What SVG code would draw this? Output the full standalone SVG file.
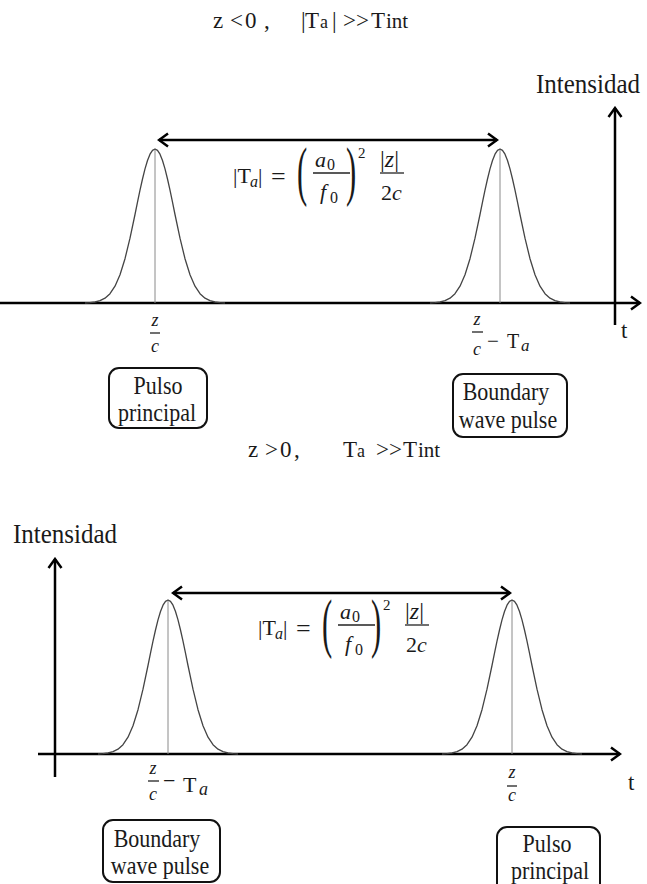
<svg xmlns="http://www.w3.org/2000/svg" xmlns:xlink="http://www.w3.org/1999/xlink" width="647" height="884" viewBox="0 0 647 884">
<style>
text{font-family:"Liberation Serif","Times New Roman",serif;fill:#1a1a1a}
.ttl{font-size:23px}
.sub{font-size:18px}
.ax{stroke:#000;stroke-width:2.5;fill:none}
.arr{stroke:#000;stroke-width:2.5;fill:none}
.pulse{stroke:#444;stroke-width:1.3;fill:none;stroke-linejoin:round}
.ctr{stroke:#8a8a8a;stroke-width:1}
.box{fill:#fff;stroke:#111;stroke-width:2}
.bt{font-size:22px;text-anchor:middle}
.fr{font-size:18px;font-style:italic;text-anchor:middle}
.fl{stroke:#222;stroke-width:1.3}
.m{font-size:22px}
.mi{font-style:italic}
.lbl{font-size:25px}
</style>
<defs>
<marker id="ah" viewBox="-11 -8 13 16" refX="0" refY="0" markerWidth="13" markerHeight="16" markerUnits="userSpaceOnUse" orient="auto-start-reverse">
<path d="M-9,-6.5 L0,0 L-9,6.5" fill="none" stroke="#000" stroke-width="2.5"/>
</marker>
<polyline id="g" class="pulse" points="-70,0 -65,-0.4 -60,-1 -55,-2.3 -50,-4.8 -45,-9.3 -40,-16.8 -35,-28.2 -30,-44.3 -25,-64.8 -20,-88.5 -17.5,-100.8 -15,-112.8 -12.5,-124 -10,-134.1 -7.5,-142.5 -5,-148.8 -2.5,-152.7 0,-154 2.5,-152.7 5,-148.8 7.5,-142.5 10,-134.1 12.5,-124 15,-112.8 17.5,-100.8 20,-88.5 25,-64.8 30,-44.3 35,-28.2 40,-16.8 45,-9.3 50,-4.8 55,-2.3 60,-1 65,-0.4 70,0"/>
<g id="formula">
<text class="m" x="233" y="183">|T</text>
<text class="mi" x="250" y="187" font-size="16">a</text>
<text class="m" x="258" y="183">|</text>
<text x="271" y="185" font-size="26">=</text>
<text x="0" y="0" font-size="34" transform="translate(297,193) scale(0.9,1.9)">(</text>
<text class="m mi" x="315" y="167">a</text>
<text x="327" y="170" font-size="16">0</text>
<line class="fl" x1="313" y1="173" x2="350" y2="173"/>
<text class="m mi" x="320" y="199">f</text>
<text x="330" y="203" font-size="16">0</text>
<text x="0" y="0" font-size="34" transform="translate(346,193) scale(0.9,1.9)">)</text>
<text x="358" y="158" font-size="15">2</text>
<text x="380" y="167" font-size="24">|<tspan font-style="italic">z</tspan>|</text>
<line class="fl" x1="380" y1="173" x2="404" y2="173"/>
<text class="m" x="381" y="200">2<tspan font-style="italic">c</tspan></text>
</g>
</defs>

<g id="title-top">
<text class="ttl" y="28"><tspan x="213">z</tspan><tspan x="230">&lt;</tspan><tspan x="245">0</tspan><tspan x="264">,</tspan><tspan x="301">|</tspan><tspan x="305">T</tspan><tspan x="320" class="sub">a</tspan><tspan x="332">|</tspan><tspan x="343">&gt;&gt;</tspan><tspan x="371">T</tspan><tspan x="386" font-size="21">int</tspan></text>
</g>

<g id="title-bottom">
<text class="ttl" y="457"><tspan x="248">z</tspan><tspan x="265">&gt;</tspan><tspan x="280">0</tspan><tspan x="294">,</tspan><tspan x="343">T</tspan><tspan x="357" class="sub">a</tspan><tspan x="376">&gt;&gt;</tspan><tspan x="403">T</tspan><tspan x="418" font-size="21">int</tspan></text>
</g>

<g id="axes">
<line class="ax" x1="0" y1="303" x2="640" y2="303" marker-end="url(#ah)"/>
<line class="ax" x1="615" y1="325" x2="615" y2="108" marker-end="url(#ah)"/>
<line class="ax" x1="38" y1="754" x2="620" y2="754" marker-end="url(#ah)"/>
<line class="ax" x1="55" y1="777" x2="55" y2="559" marker-end="url(#ah)"/>
<text class="lbl" x="0" y="0" transform="translate(536,93) scale(1,1.08)">Intensidad</text>
<text class="ttl" x="621" y="338">t</text>
<text class="lbl" x="0" y="0" transform="translate(13,543) scale(1,1.08)">Intensidad</text>
<text class="ttl" x="628" y="790">t</text>
</g>

<g id="pulse-top-principal">
<line class="ctr" x1="155" y1="149" x2="155" y2="303"/>
<use xlink:href="#g" href="#g" x="155" y="303"/>
</g>
<g id="pulse-top-boundary">
<line class="ctr" x1="500" y1="149" x2="500" y2="303"/>
<use xlink:href="#g" href="#g" x="500" y="303"/>
</g>
<g id="pulse-bottom-boundary">
<line class="ctr" x1="168" y1="600" x2="168" y2="754"/>
<use xlink:href="#g" href="#g" x="168" y="754"/>
</g>
<g id="pulse-bottom-principal">
<line class="ctr" x1="512" y1="600" x2="512" y2="754"/>
<use xlink:href="#g" href="#g" x="512" y="754"/>
</g>

<g id="connectors">
<line class="arr" x1="159" y1="140" x2="497" y2="140" marker-start="url(#ah)" marker-end="url(#ah)"/>
<line class="arr" x1="173" y1="593" x2="510" y2="593" marker-start="url(#ah)" marker-end="url(#ah)"/>
</g>

<g id="formula-top">
<use xlink:href="#formula" href="#formula"/>
</g>
<g id="formula-bottom">
<use xlink:href="#formula" href="#formula" transform="translate(25,452)"/>
</g>

<g id="label-top-zc">
<text class="fr" x="155" y="326">z</text>
<line class="fl" x1="150" y1="333" x2="160" y2="333"/>
<text class="fr" x="155" y="352">c</text>
</g>
<g id="label-top-zc-Ta">
<text class="fr" x="477" y="325">z</text>
<line class="fl" x1="472" y1="332" x2="483" y2="332"/>
<text class="fr" x="477" y="355">c</text>
<text x="487" y="348" font-size="21">−</text>
<text x="507" y="348" font-size="20">T</text>
<text x="521" y="351" font-size="17" font-style="italic">a</text>
</g>
<g id="label-bottom-zc-Ta">
<text class="fr" x="153" y="774">z</text>
<line class="fl" x1="148" y1="781" x2="159" y2="781"/>
<text class="fr" x="153" y="800">c</text>
<text x="163" y="788" font-size="22">−</text>
<text x="183" y="792" font-size="22">T</text>
<text x="199" y="795" font-size="18" font-style="italic">a</text>
</g>
<g id="label-bottom-zc">
<text class="fr" x="512" y="778">z</text>
<line class="fl" x1="507" y1="786" x2="517" y2="786"/>
<text class="fr" x="512" y="801">c</text>
</g>

<g id="box-top-principal">
<rect class="box" x="109" y="368" width="98" height="60" rx="10"/>
<text class="bt" x="0" y="0" transform="translate(158,394) scale(1,1.1)">Pulso</text>
<text class="bt" x="0" y="0" transform="translate(157,421) scale(1,1.1)">principal</text>
</g>
<g id="box-top-boundary">
<rect class="box" x="453" y="374" width="114" height="63" rx="10"/>
<text class="bt" x="0" y="0" transform="translate(506,400) scale(1,1.1)">Boundary</text>
<text class="bt" x="0" y="0" transform="translate(508,428) scale(1,1.1)">wave pulse</text>
</g>
<g id="box-bottom-boundary">
<rect class="box" x="103" y="820" width="117" height="62" rx="10"/>
<text class="bt" x="0" y="0" transform="translate(157,847) scale(1,1.1)">Boundary</text>
<text class="bt" x="0" y="0" transform="translate(160,874) scale(1,1.1)">wave pulse</text>
</g>
<g id="box-bottom-principal">
<rect class="box" x="497" y="827" width="103" height="66" rx="10"/>
<text class="bt" x="0" y="0" transform="translate(547,852) scale(1,1.1)">Pulso</text>
<text class="bt" x="0" y="0" transform="translate(550,879) scale(1,1.1)">principal</text>
</g>
</svg>
